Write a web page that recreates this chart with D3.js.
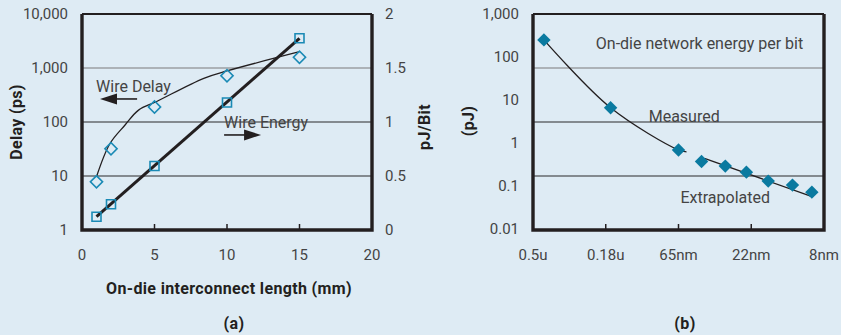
<!DOCTYPE html>
<html>
<head>
<meta charset="utf-8">
<script src="https://cdn.jsdelivr.net/npm/d3@7"></script>
<style>
  body { margin: 0; background: #deebf4; }
  svg { display: block; font-family: Roboto, "DejaVu Sans", sans-serif; }
</style>
</head>
<body>
<div id="chart"></div>
<script>
// ---- panel (a) data ----
var lengthMm = [1, 2, 5, 10, 15];
var wireDelay = [7.8, 32, 190, 720, 1580];       // ps, left log axis
var wireEnergy = [0.123, 0.238, 0.593, 1.18, 1.775]; // pJ/bit, right axis
// fitted curves as drawn in the figure
var delayFitX = [1, 1.93, 2.97, 3.9, 5.15, 8.4, 10.05, 15];
var delayFitY = [9.7, 40, 88, 166, 240, 645, 890, 2000];
var energyFitX = [1, 15];
var energyFitY = [0.123, 1.775];
var xTicksA = [0, 5, 10, 15, 20];
var yTicksA = [1, 10, 100, 1000, 10000];
var y2TicksA = [0, 0.5, 1, 1.5, 2];

// ---- panel (b) data ----
var nodeLabels = ["0.5u", "0.18u", "65nm", "22nm", "8nm"];
var nodeTickPos = [0, 3, 6, 9, 12];
var measuredX = [0.45, 3.2, 6.0];
var measuredY = [250, 6.6, 0.69];
var extrapX = [6.95, 7.93, 8.8, 9.7, 10.7, 11.5];
var extrapY = [0.37, 0.29, 0.21, 0.13, 0.105, 0.072];
var measuredFitX = [0.45, 3.2, 6.0, 6.33];
var measuredFitY = [250, 6.6, 0.69, 0.62];
var extrapFitX = [7.07, 11.45];
var extrapFitY = [0.44, 0.058];
var yTicksB = [0.01, 0.1, 1, 10, 100, 1000];

// horizontal rules sit at quarters of the plot height in both panels
var gridFrac = [0.25, 0.5, 0.75];

var width = 841, height = 335;
var ink = "#231f20", labelInk = "#444", markColor = "#1a8ab5", fillMark = "#0a7aa0";

var svg = d3.select("#chart").append("svg")
  .attr("width", width)
  .attr("height", height);

function drawFrame(g, left, right, top, bottom) {
  // grid rules
  var gy = d3.scaleLinear().domain([0, 1]).range([top, bottom]);
  g.selectAll(".grid")
    .data(gridFrac)
    .enter().append("line")
      .attr("x1", left).attr("x2", right)
      .attr("y1", function(d) { return gy(d); })
      .attr("y2", function(d) { return gy(d); })
      .attr("stroke", function(d, i) { return i == 0 ? "#7a7a7a" : "#2a2a2a"; })
      .attr("stroke-width", 1.2);
  // box: thin top, heavy other three sides
  g.append("line").attr("x1", left).attr("x2", right).attr("y1", top).attr("y2", top)
    .attr("stroke", ink).attr("stroke-width", 1.8);
  g.append("path")
    .attr("d", "M" + left + "," + top + "V" + bottom + "H" + right + "V" + top)
    .attr("fill", "none").attr("stroke", ink).attr("stroke-width", 3.4);
}

function inwardTicks(g, xs, bottom) {
  g.selectAll(".tk")
    .data(xs)
    .enter().append("line")
      .attr("x1", function(d) { return d; }).attr("x2", function(d) { return d; })
      .attr("y1", bottom).attr("y2", bottom - 6)
      .attr("stroke", ink).attr("stroke-width", 1.5);
}

function arrow(g, x1, x2, y) {
  var dir = x2 > x1 ? 1 : -1;
  g.append("line")
    .attr("x1", x1).attr("x2", x2 - dir * 14).attr("y1", y).attr("y2", y)
    .attr("stroke", ink).attr("stroke-width", 1.6);
  g.append("path")
    .attr("d", "M" + x2 + "," + y + "L" + (x2 - dir * 17) + "," + (y - 5.5) + "L" + (x2 - dir * 17) + "," + (y + 5.5) + "Z")
    .attr("fill", ink);
}

function boldText(g, txt) {
  return g.append("text")
    .attr("text-anchor", "middle")
    .attr("font-size", 16).attr("font-weight", "bold")
    .attr("letter-spacing", 0.35)
    .attr("fill", ink)
    .text(txt);
}

// =================== panel (a) ===================
var a = { left: 82, right: 372, top: 14, bottom: 230 };
var gA = svg.append("g");

var xA = d3.scaleLinear().domain([0, 20]).range([a.left, a.right]);
var yA = d3.scaleLog().domain([1, 10000]).range([a.bottom, a.top]);
var y2A = d3.scaleLinear().domain([0, 2]).range([a.bottom, a.top]);

drawFrame(gA, a.left, a.right, a.top, a.bottom);
inwardTicks(gA, xTicksA.slice(1, 4).map(xA), a.bottom);

gA.selectAll(".ylab")
  .data(yTicksA)
  .enter().append("text")
    .attr("x", a.left - 14)
    .attr("y", function(d) { return yA(d); })
    .attr("dy", "0.36em")
    .attr("text-anchor", "end")
    .attr("font-size", 15)
    .attr("fill", labelInk)
    .text(d3.format(","));

gA.selectAll(".y2lab")
  .data(y2TicksA)
  .enter().append("text")
    .attr("x", a.right + 13)
    .attr("y", function(d) { return y2A(d); })
    .attr("dy", "0.36em")
    .attr("font-size", 15)
    .attr("fill", labelInk)
    .text(function(d) { return d; });

gA.selectAll(".xlab")
  .data(xTicksA)
  .enter().append("text")
    .attr("x", function(d) { return xA(d); })
    .attr("y", 260)
    .attr("text-anchor", "middle")
    .attr("font-size", 15)
    .attr("fill", labelInk)
    .text(function(d) { return d; });

// delay curve
var delayLine = d3.line()
  .x(function(d) { return xA(d[0]); })
  .y(function(d) { return yA(d[1]); })
  .curve(d3.curveCatmullRom);
gA.append("path")
  .attr("d", delayLine(d3.zip(delayFitX, delayFitY)))
  .attr("fill", "none").attr("stroke", ink).attr("stroke-width", 1.3);

// energy line
var energyLine = d3.line()
  .x(function(d) { return xA(d[0]); })
  .y(function(d) { return y2A(d[1]); });
gA.append("path")
  .attr("d", energyLine(d3.zip(energyFitX, energyFitY)))
  .attr("fill", "none").attr("stroke", ink).attr("stroke-width", 3);

// markers
var sq = d3.symbol().type(d3.symbolSquare);
gA.selectAll(".dia")
  .data(d3.zip(lengthMm, wireDelay))
  .enter().append("path")
    .attr("d", sq.size(74)())
    .attr("transform", function(d) { return "translate(" + xA(d[0]) + "," + yA(d[1]) + ") rotate(45)"; })
    .attr("fill", "none").attr("stroke", markColor).attr("stroke-width", 1.6);
gA.selectAll(".sq")
  .data(d3.zip(lengthMm, wireEnergy))
  .enter().append("path")
    .attr("d", sq.size(81)())
    .attr("transform", function(d) { return "translate(" + xA(d[0]) + "," + y2A(d[1]) + ")"; })
    .attr("fill", "none").attr("stroke", markColor).attr("stroke-width", 1.6);

// annotations
gA.append("text").attr("x", xA(0.97)).attr("y", yA(360))
  .attr("font-size", 16).attr("fill", labelInk).text("Wire Delay");
arrow(gA, xA(3.8), xA(1.24), yA(267));
gA.append("text").attr("x", xA(9.8)).attr("y", y2A(0.944))
  .attr("font-size", 16).attr("fill", labelInk).text("Wire Energy");
arrow(gA, xA(9.8), xA(12.35), y2A(0.88));

// axis titles
boldText(gA, "Delay (ps)")
  .attr("transform", "translate(22," + (a.top + a.bottom) / 2 + ") rotate(-90)");
boldText(gA, "pJ/Bit")
  .attr("transform", "translate(430,127) rotate(-90)");
boldText(gA, "On-die interconnect length (mm)")
  .attr("x", 229).attr("y", 294);
boldText(gA, "(a)")
  .attr("x", 234).attr("y", 329);

// =================== panel (b) ===================
var b = { left: 533, right: 824, top: 14, bottom: 230 };
var gB = svg.append("g");

var xB = d3.scaleLinear().domain([0, 12]).range([b.left, b.right]);
var yB = d3.scaleLog().domain([0.01, 1000]).range([b.bottom - 1, b.top]);

drawFrame(gB, b.left, b.right, b.top, b.bottom);
inwardTicks(gB, nodeTickPos.slice(1, 4).map(xB), b.bottom);

gB.selectAll(".ylab")
  .data(yTicksB)
  .enter().append("text")
    .attr("x", b.left - 14)
    .attr("y", function(d) { return yB(d); })
    .attr("dy", "0.36em")
    .attr("text-anchor", "end")
    .attr("font-size", 15)
    .attr("fill", labelInk)
    .text(function(d) { return d >= 1 ? d3.format(",")(d) : d; });

gB.selectAll(".xlab")
  .data(nodeLabels)
  .enter().append("text")
    .attr("x", function(d, i) { return xB(nodeTickPos[i]); })
    .attr("y", 260)
    .attr("text-anchor", "middle")
    .attr("font-size", 15)
    .attr("fill", labelInk)
    .text(function(d) { return d; });

var lineB = d3.line()
  .x(function(d) { return xB(d[0]); })
  .y(function(d) { return yB(d[1]); })
  .curve(d3.curveCatmullRom);
gB.append("path")
  .attr("d", lineB(d3.zip(measuredFitX, measuredFitY)))
  .attr("fill", "none").attr("stroke", ink).attr("stroke-width", 1.3);
gB.append("path")
  .attr("d", lineB(d3.zip(extrapFitX, extrapFitY)))
  .attr("fill", "none").attr("stroke", ink).attr("stroke-width", 1.3);

gB.selectAll(".pt")
  .data(d3.zip(measuredX.concat(extrapX), measuredY.concat(extrapY)))
  .enter().append("path")
    .attr("d", sq.size(90)())
    .attr("transform", function(d) { return "translate(" + xB(d[0]) + "," + yB(d[1]) + ") rotate(45)"; })
    .attr("fill", fillMark);

gB.append("text").attr("x", xB(2.59)).attr("y", yB(153))
  .attr("font-size", 16).attr("fill", labelInk).text("On-die network energy per bit");
gB.append("text").attr("x", xB(4.77)).attr("y", yB(3.1))
  .attr("font-size", 16).attr("fill", labelInk).text("Measured");
gB.append("text").attr("x", xB(6.08)).attr("y", yB(0.04))
  .attr("font-size", 16).attr("fill", labelInk).text("Extrapolated");

boldText(gB, "(pJ)")
  .attr("transform", "translate(474,121) rotate(-90)");
boldText(gB, "(b)")
  .attr("x", 685).attr("y", 329);
</script>
</body>
</html>
